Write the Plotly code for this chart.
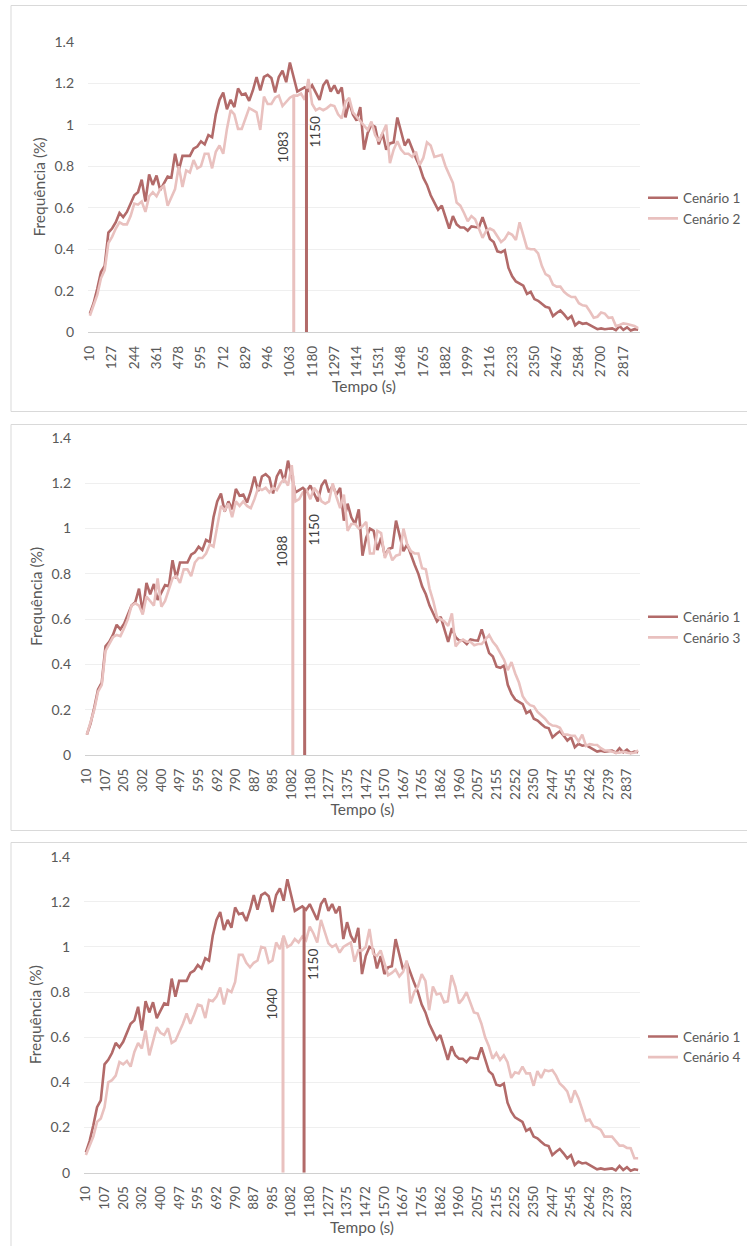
import numpy as np
import plotly.graph_objects as go

W, H = 747, 1246

# ---------------- data ----------------
N = 149
passo = 19.4963  # regular time step of the bins (s)
tempo = [10 + i * passo for i in range(N)]

cenario1 = [0.09, 0.14, 0.21, 0.29, 0.32, 0.48, 0.50, 0.53, 0.575, 0.555,
            0.58, 0.62, 0.66, 0.675, 0.735, 0.63, 0.76, 0.71, 0.755, 0.685,
            0.72, 0.75, 0.745, 0.86, 0.78, 0.85, 0.85, 0.85, 0.885, 0.895,
            0.92, 0.905, 0.95, 0.94, 1.05, 1.12, 1.155, 1.075, 1.12, 1.085,
            1.175, 1.145, 1.15, 1.115, 1.165, 1.23, 1.165, 1.23, 1.24, 1.225,
            1.155, 1.23, 1.26, 1.205, 1.30, 1.235, 1.16, 1.17, 1.18, 1.165,
            1.19, 1.155, 1.12, 1.19, 1.215, 1.16, 1.19, 1.15, 1.18, 1.035,
            1.11, 1.05, 1.02, 1.085, 0.88, 0.96, 1.00, 0.99, 0.905, 0.96,
            0.88, 0.91, 0.915, 1.035, 0.96, 0.90, 0.93, 0.88, 0.84, 0.80,
            0.745, 0.71, 0.66, 0.625, 0.59, 0.61, 0.55, 0.50, 0.56, 0.52,
            0.505, 0.505, 0.49, 0.51, 0.507, 0.505, 0.555, 0.50, 0.45, 0.435,
            0.39, 0.385, 0.395, 0.31, 0.27, 0.245, 0.233, 0.225, 0.185, 0.195,
            0.16, 0.152, 0.137, 0.123, 0.118, 0.078, 0.093, 0.105, 0.086, 0.064,
            0.078, 0.034, 0.049, 0.041, 0.044, 0.034, 0.024, 0.015, 0.019, 0.015,
            0.017, 0.019, 0.010, 0.030, 0.012, 0.024, 0.009, 0.015, 0.012]

cenario2 = [0.08, 0.13, 0.18, 0.26, 0.30, 0.43, 0.46, 0.50, 0.53, 0.52,
            0.52, 0.56, 0.62, 0.615, 0.63, 0.58, 0.655, 0.675, 0.655, 0.69,
            0.705, 0.61, 0.65, 0.69, 0.80, 0.70, 0.78, 0.77, 0.83, 0.79,
            0.80, 0.86, 0.86, 0.79, 0.87, 0.90, 0.86, 0.98, 1.07, 1.05,
            0.98, 0.98, 1.03, 1.08, 1.07, 1.06, 0.975, 1.135, 1.10, 1.10,
            1.13, 1.14, 1.09, 1.11, 1.13, 1.14, 1.14, 1.15, 1.12, 1.22,
            1.10, 1.07, 1.08, 1.07, 1.08, 1.095, 1.09, 1.05, 1.03, 1.11,
            1.13, 1.06, 1.04, 1.02, 1.00, 0.975, 1.015, 0.95, 0.92, 0.96,
            1.00, 0.815, 0.88, 0.92, 0.88, 0.86, 0.86, 0.845, 0.87, 0.805,
            0.84, 0.915, 0.90, 0.845, 0.85, 0.855, 0.80, 0.76, 0.72, 0.625,
            0.61, 0.575, 0.535, 0.56, 0.545, 0.50, 0.455, 0.49, 0.50, 0.49,
            0.46, 0.435, 0.45, 0.48, 0.47, 0.445, 0.53, 0.47, 0.405, 0.40,
            0.40, 0.38, 0.32, 0.28, 0.27, 0.23, 0.22, 0.22, 0.195, 0.18,
            0.17, 0.17, 0.14, 0.13, 0.127, 0.10, 0.07, 0.075, 0.095, 0.09,
            0.07, 0.072, 0.03, 0.035, 0.043, 0.04, 0.035, 0.03, 0.02]

cenario3 = [0.09, 0.14, 0.20, 0.28, 0.31, 0.46, 0.49, 0.52, 0.53, 0.525,
            0.56, 0.60, 0.66, 0.67, 0.66, 0.62, 0.70, 0.68, 0.66, 0.78,
            0.655, 0.68, 0.73, 0.78, 0.79, 0.76, 0.82, 0.82, 0.79, 0.85,
            0.87, 0.87, 0.89, 0.93, 0.92, 1.02, 1.10, 1.08, 1.11, 1.05,
            1.12, 1.10, 1.12, 1.10, 1.09, 1.13, 1.18, 1.17, 1.18, 1.16,
            1.18, 1.17, 1.20, 1.22, 1.19, 1.28, 1.12, 1.13, 1.16, 1.17,
            1.13, 1.18, 1.16, 1.12, 1.11, 1.12, 1.20, 1.14, 1.09, 1.15,
            0.99, 1.02, 1.02, 1.00, 1.01, 1.03, 0.89, 0.89, 0.99, 0.98,
            0.87, 0.91, 0.86, 0.88, 0.885, 1.00, 0.93, 0.90, 0.89, 0.89,
            0.825, 0.82, 0.735, 0.68, 0.61, 0.60, 0.59, 0.57, 0.625, 0.48,
            0.50, 0.51, 0.50, 0.50, 0.485, 0.49, 0.49, 0.51, 0.53, 0.50,
            0.48, 0.45, 0.42, 0.375, 0.41, 0.36, 0.32, 0.26, 0.235, 0.22,
            0.215, 0.19, 0.175, 0.16, 0.14, 0.13, 0.128, 0.12, 0.09, 0.09,
            0.085, 0.085, 0.06, 0.09, 0.04, 0.048, 0.045, 0.044, 0.03, 0.02,
            0.02, 0.015, 0.01, 0.01, 0.015, 0.01, 0.008, 0.01, 0.02]

cenario4 = [0.078, 0.12, 0.16, 0.225, 0.24, 0.29, 0.40, 0.41, 0.43, 0.49,
            0.48, 0.495, 0.47, 0.535, 0.575, 0.55, 0.63, 0.52, 0.58, 0.645,
            0.62, 0.61, 0.64, 0.575, 0.585, 0.62, 0.66, 0.705, 0.66, 0.70,
            0.745, 0.74, 0.685, 0.765, 0.76, 0.78, 0.82, 0.745, 0.81, 0.80,
            0.845, 0.965, 0.965, 0.93, 0.91, 0.93, 0.94, 1.00, 0.995, 0.93,
            0.94, 1.02, 0.99, 1.05, 1.00, 1.01, 1.035, 1.02, 1.046, 1.03,
            1.09, 1.06, 1.02, 1.12, 1.07, 1.016, 1.00, 1.01, 0.975, 1.00,
            1.01, 1.02, 0.935, 0.985, 0.985, 1.00, 1.08, 0.97, 0.96, 0.985,
            0.93, 0.875, 0.885, 0.90, 0.87, 0.89, 0.94, 0.75, 0.80, 0.825,
            0.88, 0.85, 0.72, 0.825, 0.79, 0.795, 0.755, 0.76, 0.875, 0.825,
            0.75, 0.77, 0.80, 0.75, 0.71, 0.705, 0.66, 0.60, 0.56, 0.505,
            0.53, 0.50, 0.52, 0.49, 0.42, 0.445, 0.44, 0.47, 0.44, 0.44,
            0.385, 0.45, 0.42, 0.455, 0.45, 0.455, 0.43, 0.395, 0.38, 0.36,
            0.31, 0.365, 0.33, 0.28, 0.23, 0.235, 0.205, 0.20, 0.19, 0.16,
            0.16, 0.16, 0.14, 0.12, 0.12, 0.11, 0.108, 0.064, 0.064]

nomes = ["Cenário 2", "Cenário 3", "Cenário 4"]
series = [cenario2, cenario3, cenario4]
media_cen1 = 1150
medias = [1083, 1088, 1040]

# ---------------- styling / layout ----------------
ESCURO = "#B26A69"
CLARO = "#E9C1BF"
TXT = "#595959"
FONT = "Lato"

# panel geometry in pixels: (plot left, plot right, y of 1.4, y of 0, box top, box bottom)
geo = [(88, 640, 41.7, 332.3, 5.5, 411.5),
       (85, 640, 438.0, 755.0, 424.5, 830.5),
       (84, 640, 856.7, 1172.7, 842.5, 1252)]
tick_every = [6, 5, 5]
# vertical position (data units) of the mean labels: (base label, scenario label)
pos_rotulos = [(0.965, 0.893), (0.994, 0.90), (0.92, 0.744)]

fig = go.Figure()
layout = dict(width=W, height=H, margin=dict(l=0, r=0, t=0, b=0),
              paper_bgcolor="white", plot_bgcolor="white",
              font=dict(family=FONT, color=TXT), shapes=[], annotations=[])

x_lo = tempo[0] - passo / 2
x_hi = tempo[-1] + passo / 2

for k in range(3):
    xl, xr, ytop, ybot, btop, bbot = geo[k]
    sfx = "" if k == 0 else str(k + 1)
    xa, ya = "x" + sfx, "y" + sfx
    leg = "legend" + sfx

    fig.add_trace(go.Scatter(x=tempo, y=cenario1, mode="lines", name="Cenário 1",
                             line=dict(color=ESCURO, width=2.6), xaxis=xa, yaxis=ya,
                             legend=leg, legendrank=1))
    fig.add_trace(go.Scatter(x=tempo, y=series[k], mode="lines", name=nomes[k],
                             line=dict(color=CLARO, width=2.6), xaxis=xa, yaxis=ya,
                             legend=leg, legendrank=2))

    # mean markers: vertical lines up to the curve
    h_cen = float(np.interp(medias[k], tempo, series[k]))
    h_base = float(np.interp(media_cen1, tempo, cenario1))
    fig.add_trace(go.Scatter(x=[medias[k], medias[k]], y=[0, h_cen], mode="lines",
                             line=dict(color=CLARO, width=3), xaxis=xa, yaxis=ya,
                             showlegend=False, hoverinfo="skip"))
    fig.add_trace(go.Scatter(x=[media_cen1, media_cen1], y=[0, h_base], mode="lines",
                             line=dict(color=ESCURO, width=3), xaxis=xa, yaxis=ya,
                             showlegend=False, hoverinfo="skip"))

    yb, yc = pos_rotulos[k]
    layout["annotations"].append(dict(x=media_cen1, y=yb, xref=xa, yref=ya,
                                      text=str(media_cen1), textangle=-90, showarrow=False,
                                      xshift=9, font=dict(size=13.5, color="#404040", family=FONT)))
    layout["annotations"].append(dict(x=medias[k], y=yc, xref=xa, yref=ya,
                                      text=str(medias[k]), textangle=-90, showarrow=False,
                                      xshift=-11, font=dict(size=13.5, color="#404040", family=FONT)))

    tv = tempo[::tick_every[k]]
    layout["xaxis" + sfx] = dict(
        domain=[xl / W, xr / W], anchor=ya, range=[x_lo, x_hi],
        tickmode="array", tickvals=tv, ticktext=[str(int(t + 0.5)) for t in tv],
        tickangle=-90, tickfont=dict(size=13.5, color=TXT, family=FONT),
        ticklabelstandoff=7, showgrid=False, zeroline=False,
        showline=True, linecolor="#D0D0D0", linewidth=1.3, ticks="",
        title=dict(text="Tempo (s)", font=dict(size=15.5, color=TXT, family=FONT), standoff=3),
        automargin=False, fixedrange=True)
    layout["yaxis" + sfx] = dict(
        domain=[1 - ybot / H, 1 - ytop / H], anchor=xa, range=[0, 1.4],
        tickmode="linear", tick0=0, dtick=0.2, tickformat="~g",
        tickfont=dict(size=14, color=TXT, family=FONT), ticklabelstandoff=13,
        showgrid=True, gridcolor="#EFEFEF", gridwidth=1, zeroline=False,
        showline=False, ticks="",
        title=dict(text="Frequência (%)", font=dict(size=15.5, color=TXT, family=FONT), standoff=5),
        automargin=False, fixedrange=True)

    layout[leg] = dict(x=643 / W, y=1 - ((btop + bbot) / 2) / H, xanchor="left",
                       yanchor="middle", bgcolor="rgba(0,0,0,0)",
                       font=dict(size=13.5, color=TXT, family=FONT),
                       tracegroupgap=4, itemwidth=30)

    layout["shapes"].append(dict(type="rect", xref="paper", yref="paper",
                                 x0=11 / W, x1=1.02, y0=1 - bbot / H, y1=1 - btop / H,
                                 line=dict(color="#D9D9D9", width=1), fillcolor="rgba(0,0,0,0)",
                                 layer="below"))

fig.update_layout(**layout)
fig.write_html("out.html", config={"displayModeBar": False},
               post_script="document.body.style.margin='0';document.body.style.overflow='hidden';")
